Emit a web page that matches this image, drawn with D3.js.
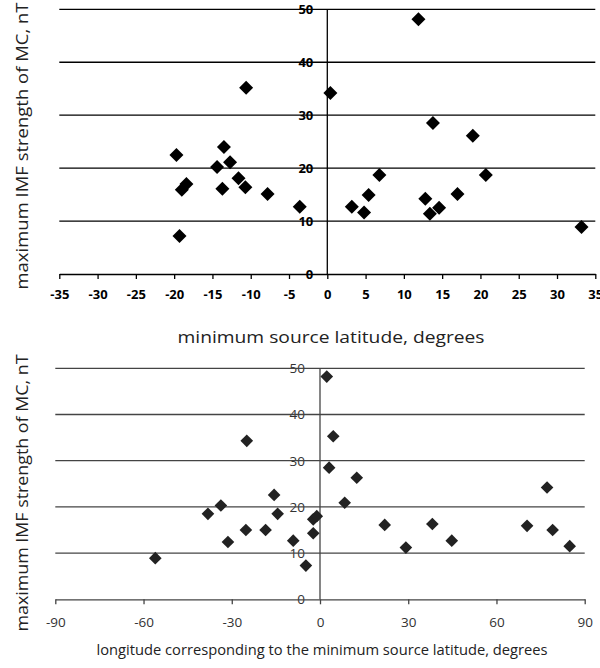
<!DOCTYPE html>
<html>
<head>
<meta charset="utf-8">
<script src="https://cdn.jsdelivr.net/npm/d3@7"></script>
<style>
  body { margin: 0; background: #fff; }
  svg { display: block; font-family: "Open Sans", "Noto Sans", sans-serif; }
</style>
</head>
<body>
<div id="chart"></div>
<script>
// top panel: minimum source latitude vs. max IMF strength
var latValues = [-19.7, -19.0, -18.4, -19.3, -13.5, -14.4, -12.7, -13.7, -11.6, -10.7, -10.6, -7.8, -3.6,
                 0.4, 3.2, 4.8, 5.4, 6.8, 11.9, 12.8, 13.4, 13.8, 14.6, 17.0, 19.0, 20.7, 33.2];
var latStrength = [22.5, 15.9, 17.0, 7.2, 24.0, 20.2, 21.1, 16.1, 18.1, 16.4, 35.2, 15.1, 12.7,
                   34.2, 12.7, 11.6, 14.9, 18.7, 48.1, 14.2, 11.4, 28.5, 12.5, 15.1, 26.1, 18.7, 8.9];
var latTicks = [-35, -30, -25, -20, -15, -10, -5, 0, 5, 10, 15, 20, 25, 30, 35];

// bottom panel: longitude at the minimum source latitude
var lonValues = [-56.0, -38.1, -33.7, -31.3, -24.9, -25.2, -18.5, -15.6, -14.4, -9.1,
                 -4.8, -2.3, -1.1, -2.3, 2.3, 4.5, 3.1, 12.5, 8.4, 22.0, 29.2, 38.2, 44.8, 70.4, 77.2, 79.1, 84.9];
var lonStrength = [8.9, 18.5, 20.3, 12.4, 34.3, 15.0, 15.0, 22.6, 18.5, 12.7,
                   7.3, 17.3, 18.0, 14.3, 48.2, 35.3, 28.5, 26.3, 20.9, 16.1, 11.2, 16.3, 12.7, 15.9, 24.2, 15.0, 11.5];
var lonTicks = [-90, -60, -30, 0, 30, 60, 90];

var strengthTicks = [0, 10, 20, 30, 40, 50];
var yTitle = "maximum IMF strength of MC, nT";

var svg = d3.select("#chart").append("svg")
    .attr("width", 600)
    .attr("height", 668);

// plain hyphen like the original, not the unicode minus
var fmt = function(d){ return String(d); };

//
// one scatter panel
//
function drawPanel(o){
  var x = d3.scaleLinear().domain(o.xDomain).range([o.left, o.right]);
  var y = d3.scaleLinear().domain([0, 50]).range([o.bottom, o.top]);
  var g = svg.append("g");

  // y tick labels sit left of the x=0 line, gridlines run over them
  g.append("g")
    .attr("transform", "translate(" + x(0) + ",0)")
    .call(d3.axisLeft(y).tickValues(strengthTicks).tickFormat(fmt).tickSize(0).tickPadding(o.yPad))
    .call(function(a){
      a.select(".domain").remove();
      a.selectAll("text")
        .style("font-family", o.font)
        .style("font-size", o.tickFont + "px")
        .style("font-weight", o.bold ? "bold" : "normal")
        .attr("fill", o.textColor);
    });

  // horizontal gridlines
  g.selectAll("line.grid")
    .data(strengthTicks.filter(function(d){ return d > 0; }))
    .enter().append("line")
    .attr("class", "grid")
    .attr("x1", o.left).attr("x2", o.right)
    .attr("y1", function(d){ return y(d); })
    .attr("y2", function(d){ return y(d); })
    .attr("stroke", o.lineColor)
    .attr("stroke-width", 1.3);

  // vertical line at zero
  g.append("line")
    .attr("x1", x(0)).attr("x2", x(0))
    .attr("y1", y(50)).attr("y2", y(0))
    .attr("stroke", o.lineColor)
    .attr("stroke-width", 1.3);

  // x axis along the bottom
  g.append("g")
    .attr("transform", "translate(0," + y(0) + ")")
    .call(d3.axisBottom(x).tickValues(o.xTicks).tickFormat(fmt).tickSize(5).tickSizeOuter(0).tickPadding(o.xPad))
    .call(function(a){
      a.select(".domain").attr("stroke", o.lineColor).attr("stroke-width", 1.3);
      a.selectAll(".tick line").attr("stroke", o.lineColor).attr("stroke-width", 1.3);
      a.selectAll("text")
        .style("font-family", o.font)
        .style("font-size", o.tickFont + "px")
        .style("font-weight", o.bold ? "bold" : "normal")
        .attr("fill", o.textColor);
    });

  // diamonds
  var diamond = d3.symbol().type(d3.symbolSquare).size(o.markerSize);
  g.selectAll("path.pt")
    .data(o.xs.map(function(v, i){ return [v, o.ys[i]]; }))
    .enter().append("path")
    .attr("class", "pt")
    .attr("d", diamond)
    .attr("transform", function(d){ return "translate(" + x(d[0]) + "," + y(d[1]) + ") rotate(45)"; })
    .attr("fill", o.markerColor);

  // axis titles
  g.append("text")
    .attr("x", o.xTitleX).attr("y", o.xTitleY)
    .attr("text-anchor", "middle")
    .attr("textLength", o.xTitleLen)
    .attr("lengthAdjust", "spacingAndGlyphs")
    .style("font-family", o.font)
    .style("font-size", o.xTitleFont + "px")
    .attr("fill", "#222")
    .text(o.xTitle);

  g.append("text")
    .attr("transform", "translate(" + o.yTitleX + "," + o.yTitleY + ") rotate(-90)")
    .attr("text-anchor", "middle")
    .attr("textLength", o.yTitleLen)
    .attr("lengthAdjust", "spacingAndGlyphs")
    .style("font-family", o.font)
    .style("font-size", "16.5px")
    .attr("fill", "#222")
    .text(yTitle);
}

drawPanel({
  xs: latValues, ys: latStrength, xDomain: [-35, 35], xTicks: latTicks,
  left: 59.3, right: 595.3, top: 9.3, bottom: 274,
  lineColor: "#000", textColor: "#000", markerColor: "#000", markerSize: 98,
  font: "Open Sans", tickFont: 13, bold: true, yPad: 14, xPad: 11,
  xTitle: "minimum source latitude, degrees", xTitleX: 331, xTitleY: 343, xTitleLen: 307, xTitleFont: 16,
  yTitleX: 28, yTitleY: 146, yTitleLen: 287
});

drawPanel({
  xs: lonValues, ys: lonStrength, xDomain: [-90, 90], xTicks: lonTicks,
  left: 55.3, right: 584.7, top: 368.3, bottom: 599.3,
  lineColor: "#444", textColor: "#333", markerColor: "#222", markerSize: 80,
  font: "Open Sans", tickFont: 13.5, bold: false, yPad: 15, xPad: 13,
  xTitle: "longitude corresponding to the minimum source latitude, degrees", xTitleX: 322, xTitleY: 655, xTitleLen: 451, xTitleFont: 14,
  yTitleX: 28, yTitleY: 493, yTitleLen: 277
});
</script>
</body>
</html>
